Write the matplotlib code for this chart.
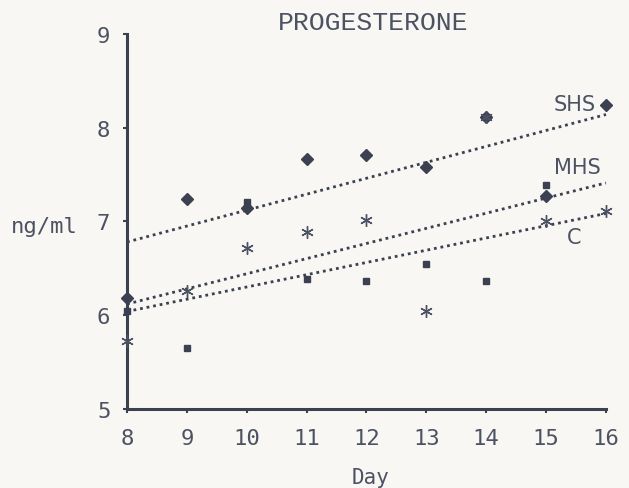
import numpy as np
import matplotlib
matplotlib.use("Agg")
import matplotlib.pyplot as plt

days = [8, 9, 10, 11, 12, 13, 14, 15, 16]
shs = [6.18, 7.24, 7.14, 7.67, 7.71, 7.58, 8.12, 7.27, 8.24]
mhs = [5.73, 6.26, 6.72, 6.89, 7.02, 6.04, 8.12, 7.00, 7.11]
c_grp = [6.05, 5.65, 7.21, 6.39, 6.37, 6.55, 6.37, 7.39, np.nan]
xticks = [8, 9, 10, 11, 12, 13, 14, 15, 16]
yticks = [5, 6, 7, 8, 9]

ink = "#3b4150"
txt = "#4c5262"
bg = "#f8f7f3"

fig = plt.figure(figsize=(6.29, 4.89), dpi=100, facecolor=bg)
ax = fig.add_axes([0.2019, 0.1616, 0.7615, 0.7668])
ax.set_facecolor(bg)

x = np.array(days, dtype=float)

def fit_line(y):
    y = np.array(y, dtype=float)
    m = ~np.isnan(y)
    k, b = np.polyfit(x[m], y[m], 1)
    return k * x + b

dot = dict(color=ink, lw=2.0, linestyle=(0, (1, 1.4)), dash_capstyle="butt", clip_on=False)
for ser in (shs, mhs, c_grp):
    ax.plot(x, fit_line(ser), **dot)

ax.plot(x, shs, linestyle="none", marker="D", ms=6, color=ink, clip_on=False, zorder=3)
ax.plot(x, c_grp, linestyle="none", marker="s", ms=5, color=ink, clip_on=False, zorder=3)
ax.plot(x, mhs, linestyle="none", marker=(6, 2, 0), ms=9, mew=1.0, color=txt, clip_on=False, zorder=3)

lab = dict(color=txt, fontsize=15, family="DejaVu Sans", ha="center", va="center")
ax.text(15.47, 8.25, "SHS", **lab)
ax.text(15.52, 7.58, "MHS", **lab)
ax.text(15.46, 6.83, "C", **lab)

ax.set_xlim(8, 16)
ax.set_ylim(5, 9)
ax.set_xticks(xticks)
ax.set_yticks(yticks)
tf = dict(family="DejaVu Sans Mono", size=16)
ax.set_xticklabels([str(t) for t in xticks], color=txt, **tf)
ax.set_yticklabels([str(t) for t in yticks], color=txt, **tf)
ax.tick_params(axis="x", direction="out", length=3, width=1.5, color=ink, pad=11)
ax.tick_params(axis="y", direction="out", length=3, width=1.5, color=ink, pad=9)

for s in ("top", "right"):
    ax.spines[s].set_visible(False)
for s in ("left", "bottom"):
    ax.spines[s].set_color(ink)
    ax.spines[s].set_linewidth(2.2)

fig.text(371 / 629, 1 - 478 / 489, "Day", family="DejaVu Sans Mono", size=15,
         color=txt, ha="center", va="center")
fig.text(11 / 629, 1 - 227 / 489, "ng/ml", family="DejaVu Sans Mono", size=16,
         color=txt, ha="left", va="center")
fig.text(373 / 629, 1 - 23 / 489, "PROGESTERONE", family="Liberation Mono", size=19,
         color=txt, ha="center", va="center")

fig.savefig("out.png", dpi=100, facecolor=bg)
